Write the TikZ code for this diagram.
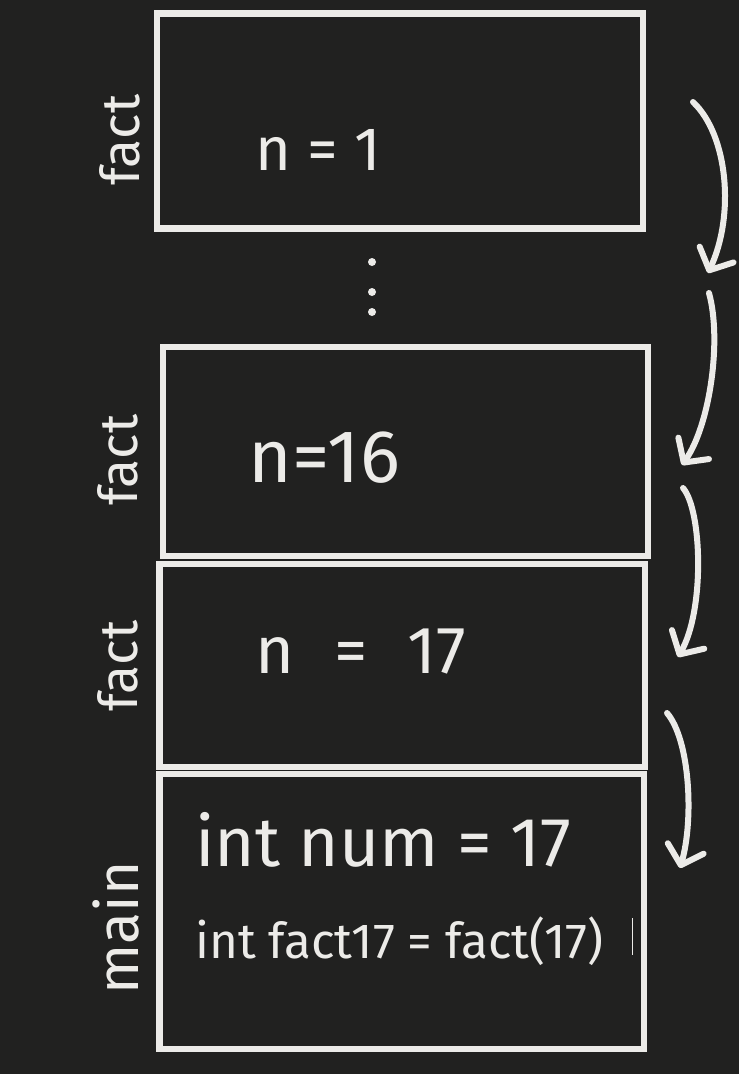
\documentclass[tikz,border=0pt]{standalone}
\usepackage{fontspec}
\setmainfont{Fira Sans}
\usetikzlibrary{arrows.meta}
\definecolor{board}{HTML}{212120}
\definecolor{chalk}{HTML}{ECEBE8}
\tikzset{
  frame/.style     = {draw=chalk, line width=5pt, inner sep=0pt},
  val/.style       = {text=chalk, anchor=base west, inner sep=0pt, font=\fontsize{46}{50}\selectfont},
  code/.style      = {text=chalk, anchor=base west, inner sep=0pt},
  fname/.style     = {text=chalk, rotate=90, anchor=base, inner sep=0pt, font=\fontsize{40}{44}\selectfont},
  callarrow/.style = {draw=chalk, line width=4.5pt, line cap=round, -{Straight Barb[length=13pt, width=28pt, round]}}
}

\begin{document}
\begin{tikzpicture}[x=0.75pt, y=-0.75pt]
  \fill[board] (0,0) rectangle (739,1074);
  \useasboundingbox (0,0) rectangle (739,1074);

  % stack frames
  \node[frame, minimum width=364.5pt, minimum height=160.9pt] (fact1)  at (400,121)    {};
  \node[frame, minimum width=363.8pt, minimum height=156.8pt] (fact16) at (405.5,451.5) {};
  \node[frame, minimum width=364.1pt, minimum height=152.3pt] (fact17) at (402.3,665.5) {};
  \node[frame, minimum width=363.4pt, minimum height=206.3pt] (main)   at (401.8,911.5) {};

  % frame names
  \node[fname] (lbl1)  at (139,140) {fact};
  \node[fname] (lbl16) at (137,460) {fact};
  \node[fname] (lbl17) at (137,666) {fact};
  \node[fname, font=\fontsize{44}{48}\selectfont] (lblmain) at (138,928) {main};

  % locals
  \node[val] (n1)  at (255,170) {n = 1};
  \node[val, font=\fontsize{56}{60}\selectfont] (n16) at (248,482) {n=16};
  \node[val, font=\fontsize{50}{54}\selectfont] (n17) at (255,673) {n\hspace{0.6em}=\hspace{0.6em}17};
  \node[code, font=\fontsize{52}{56}\selectfont] (num)  at (195,866) {int num = 17};
  \node[code, font=\fontsize{37}{40}\selectfont] (call) at (195,958) {int fact17 = fact(17)};
  \draw[chalk, line width=0.75pt] (632,918) -- (632,955);

  \foreach \y in {262,292,312}
    \fill[chalk] (372,\y) circle (4);

  % return arrows
  \coordinate (r1a) at (693,102);  \coordinate (r1b) at (708,273);
  \coordinate (r2a) at (709,293);  \coordinate (r2b) at (682,465);
  \coordinate (r3a) at (683,488);  \coordinate (r3b) at (678,657);
  \coordinate (r4a) at (667,713);  \coordinate (r4b) at (680,868);
  \draw[callarrow] (r1a) .. controls (728,135) and (735,215) .. (r1b);
  \draw[callarrow] (r2a) .. controls (722,340) and (710,425) .. (r2b);
  \draw[callarrow] (r3a) .. controls (702,510) and (705,610) .. (r3b);
  \draw[callarrow] (r4a) .. controls (690,740) and (694,820) .. (r4b);
\end{tikzpicture}
\end{document}
